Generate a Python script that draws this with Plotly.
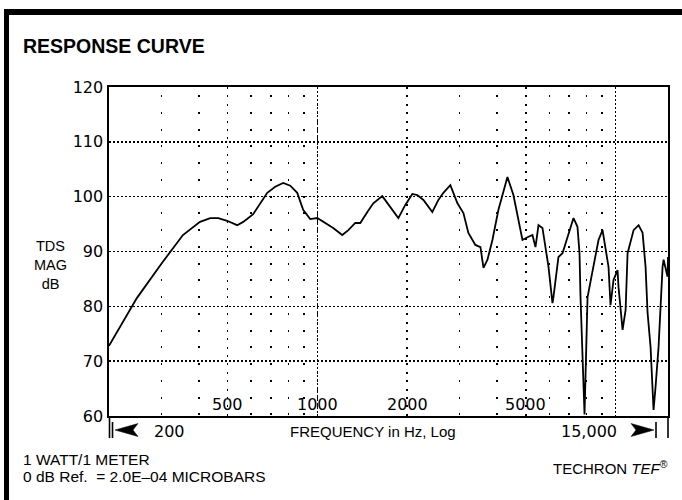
import math
import plotly.graph_objects as go

# ---------------- data ----------------
freq_hz = [200, 241, 248, 301, 325, 354, 404, 437, 465, 498, 538, 564, 609, 679, 722, 768,
           811, 856, 896, 946, 999, 1046, 1130, 1212, 1270, 1340, 1393, 1471, 1540, 1651,
           1716, 1798, 1869, 1972, 2082, 2164, 2268, 2430, 2546, 2646, 2793, 2950, 3089,
           3210, 3388, 3524, 3607, 3720, 3865, 4049, 4340, 4545, 4725, 4874, 5066, 5266,
           5390, 5517, 5689, 5822, 5960, 6146, 6192, 6437, 6641, 6902, 7230, 7455, 7573,
           7632, 7872, 8058, 8441, 8771, 9048, 9119, 9474, 9622, 9849, 10158, 10237, 10561,
           10810, 10978, 11501, 11952, 12327, 12614, 12811, 13110, 13416, 13626, 13946,
           14384, 14498, 14954, 15000]
mag_db = [72.8, 80.4, 81.5, 87.9, 90.3, 93.0, 95.4, 96.1, 96.1, 95.6, 94.8, 95.4, 96.8, 100.7,
          101.8, 102.5, 102.0, 100.7, 97.6, 95.9, 96.1, 95.4, 94.3, 93.0, 93.9, 95.2, 95.2,
          97.2, 98.8, 100.1, 98.8, 97.2, 96.1, 98.5, 100.5, 100.3, 99.4, 97.2, 99.4, 100.7,
          102.1, 98.8, 97.0, 93.4, 91.2, 90.8, 87.0, 88.5, 92.1, 97.6, 103.6, 100.3, 95.7,
          92.1, 92.6, 93.0, 90.8, 94.8, 94.3, 90.8, 87.2, 80.6, 81.7, 89.0, 89.7, 92.6, 96.1,
          94.5, 89.7, 81.7, 60.3, 81.7, 87.2, 92.1, 93.9, 92.6, 87.2, 80.2, 84.8, 86.6, 83.5,
          75.7, 79.3, 89.7, 93.9, 94.8, 93.4, 87.2, 78.8, 72.6, 61.1, 65.3, 72.6, 87.2, 88.5,
          85.4, 89.0]

y_ticks = [60, 70, 80, 90, 100, 110, 120]
x_label_ticks = [500, 1000, 2000, 5000]
x_label_text = ["500", "1000", "2000", "5000"]
decade_ticks = [1000, 10000]
minor_ticks = [300, 400, 600, 700, 800, 900, 3000, 4000, 6000, 7000, 8000, 9000]
x_range_hz = [200, 15000]
y_range_db = [60, 120]

title_text = "RESPONSE CURVE"
y_title_text = "TDS<br>MAG<br>dB"
x_title_text = "FREQUENCY in Hz, Log"
x_start_text = "200"
x_end_text = "15,000"
note_line1 = "1 WATT/1 METER"
note_line2 = "0 dB Ref.  = 2.0E\u201304 MICROBARS"
brand_text = "TECHRON <i>TEF</i><sup>®</sup>"

# ---------------- layout geometry ----------------
W, H = 682, 500
L, R, T, B = 109, 14, 87, 84
PW, PH = W - L - R, H - T - B


def px(x):
    return (x - L) / PW


def py(y):
    return (H - B - y) / PH


NUM = "DejaVu Sans"
TXT = "Liberation Sans"
INK = "black"

fig = go.Figure()
fig.add_trace(go.Scatter(x=freq_hz, y=mag_db, mode="lines",
                         line=dict(color=INK, width=1.8), showlegend=False,
                         hoverinfo="skip"))
# invisible trace to register the overlay axis
fig.add_trace(go.Scatter(x=x_range_hz, y=y_range_db, xaxis="x2", mode="lines",
                         line=dict(width=0), showlegend=False, hoverinfo="skip"))

xr = [math.log10(v) for v in x_range_hz]

fig.update_layout(
    width=W, height=H,
    margin=dict(l=L, r=R, t=T, b=B),
    paper_bgcolor="white", plot_bgcolor="white",
    xaxis=dict(type="log", range=xr, tickmode="array", tickvals=x_label_ticks,
               showticklabels=False, ticks="",
               showgrid=True, gridcolor=INK, gridwidth=1.6, griddash="2px,6.375px",
               showline=True, linecolor=INK, linewidth=2, mirror=True, zeroline=False,
               minor=dict(tickmode="array", tickvals=minor_ticks, showgrid=True,
                          gridcolor=INK, gridwidth=1.7, griddash="0px,8px,2px,6.75px",
                          ticks="")),
    xaxis2=dict(type="log", range=xr, overlaying="x", anchor="y", side="bottom",
                tickmode="array", tickvals=decade_ticks, showticklabels=False, ticks="",
                showgrid=True, gridcolor=INK, gridwidth=1.5, griddash="1.5px,2.5px",
                showline=False, zeroline=False),
    yaxis=dict(range=y_range_db, tickmode="array", tickvals=y_ticks, ticks="",
               ticklabelstandoff=1,
               tickfont=dict(family=NUM, size=16, color=INK),
               showgrid=True, gridcolor=INK, gridwidth=1.5, griddash="1.5px,2.5px",
               showline=True, linecolor=INK, linewidth=1.6, mirror=True, zeroline=False),
    showlegend=False,
)

shapes = []
# frame: top and left thick rules
shapes.append(dict(type="line", xref="paper", yref="paper", x0=px(4), x1=px(W),
                   y0=py(12), y1=py(12), line=dict(color=INK, width=6)))
shapes.append(dict(type="line", xref="paper", yref="paper", x0=px(6.5), x1=px(6.5),
                   y0=py(9), y1=py(H), line=dict(color=INK, width=5)))
# axis extensions below the plot and end bars
for x0, y0 in [(109.5, 416), (112.5, 422), (656, 422), (668, 416)]:
    shapes.append(dict(type="line", xref="paper", yref="paper", x0=px(x0), x1=px(x0),
                       y0=py(y0), y1=py(438), line=dict(color=INK, width=1.6)))


def arrow(tip, back, notch, yc, half):
    return ("M {},{} L {},{} L {},{} L {},{} Z".format(
        px(tip), py(yc), px(back), py(yc - half), px(notch), py(yc),
        px(back), py(yc + half)))


shapes.append(dict(type="path", xref="paper", yref="paper",
                   path=arrow(115, 138, 133, 430, 6.5), fillcolor=INK,
                   line=dict(color=INK, width=0.5)))
shapes.append(dict(type="path", xref="paper", yref="paper",
                   path=arrow(654, 631, 636, 430, 6.5), fillcolor=INK,
                   line=dict(color=INK, width=0.5)))
fig.update_layout(shapes=shapes)

ann = []


def text(t, x, y, xanchor="left", size=15, family=TXT, align="left"):
    ann.append(dict(text=t, x=px(x), y=py(y), xref="paper", yref="paper",
                    xanchor=xanchor, yanchor="middle", showarrow=False, align=align,
                    font=dict(family=family, size=size, color=INK)))


# frequency labels inside the plot, just above the axis
for v, lab in zip(x_label_ticks, x_label_text):
    ann.append(dict(text=lab, x=math.log10(v), y=py(404), xref="x", yref="paper",
                    xanchor="center", yanchor="middle", showarrow=False,
                    font=dict(family=NUM, size=16, color=INK)))

text("<b>" + title_text + "</b>", 21, 46, size=19.5)
text(y_title_text, 50, 265, xanchor="center", size=14.5, align="center")
text(x_start_text, 152, 431, size=16, family=NUM)
text(x_title_text, 373, 431, xanchor="center", size=15)
text(x_end_text, 619, 431, xanchor="right", size=16, family=NUM)
text(note_line1, 21, 459, size=15.5)
text(note_line2, 21, 476, size=15.5)
text(brand_text, 670, 467, xanchor="right", size=15)
fig.update_layout(annotations=ann)

fig.write_html("out.html",
               config={"displayModeBar": False, "staticPlot": True},
               post_script="document.body.style.margin='0px';"
                           "document.body.style.padding='0px';")
